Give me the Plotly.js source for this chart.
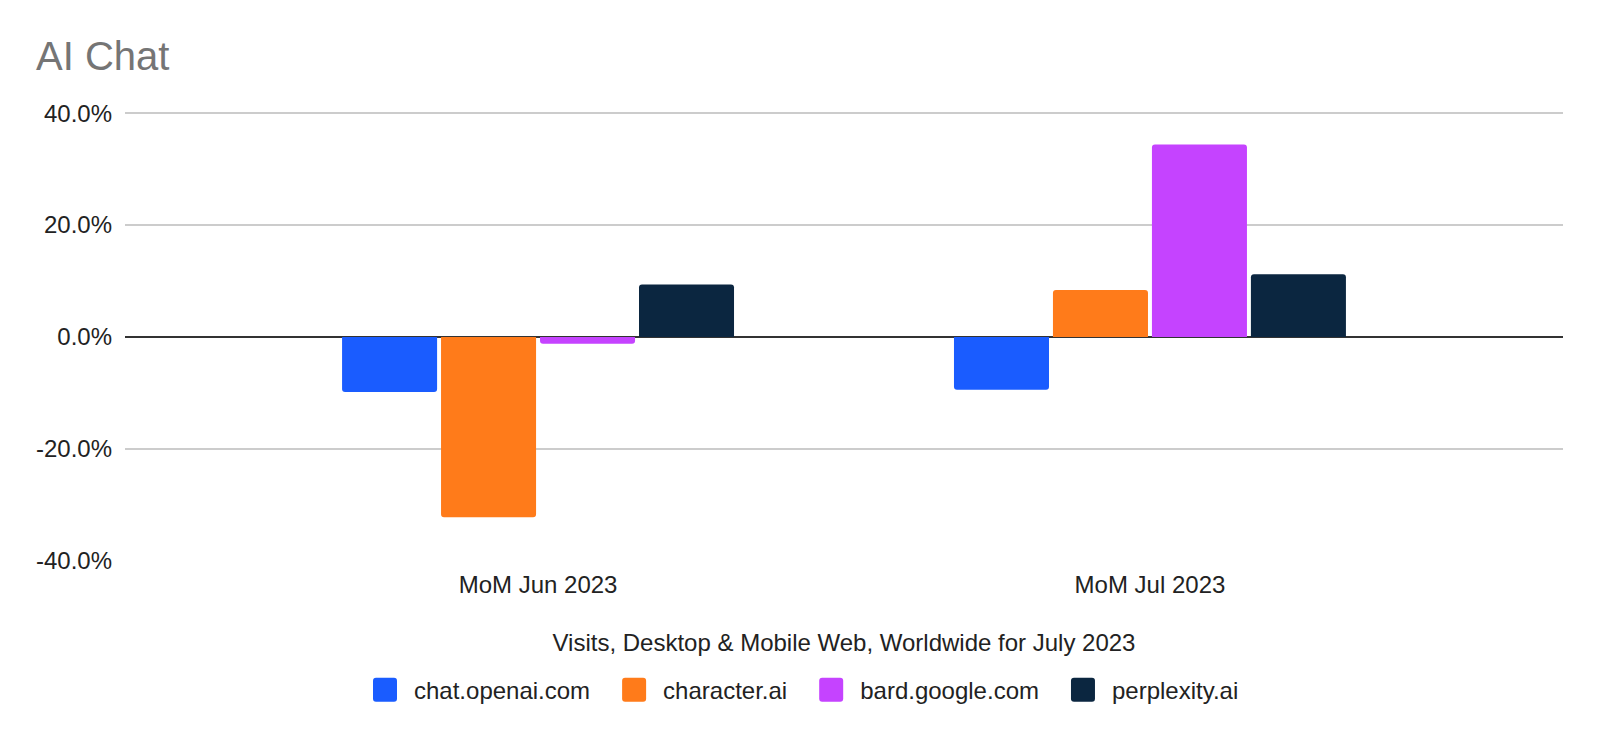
<!DOCTYPE html>
<html><head><meta charset="utf-8">
<script src="https://cdn.plot.ly/plotly-3.0.1.min.js"></script>
<style>html,body{margin:0;padding:0;background:#fff}#chart{width:1600px;height:742px}</style>
</head><body><div id="chart"></div>
<script>
const categories = ['MoM Jun 2023', 'MoM Jul 2023'];
const seriesNames = ['chat.openai.com', 'character.ai', 'bard.google.com', 'perplexity.ai'];
const chatOpenai = [-9.8, -9.4];
const characterAi = [-32.2, 8.4];
const bardGoogle = [-1.2, 34.4];
const perplexityAi = [9.4, 11.2];
const yTickVals = [-40, -20, 0, 20, 40];
const yTickText = ['-40.0%', '-20.0%', '0.0%', '20.0%', '40.0%'];
const colors = ['#1a5cff', '#ff7b1a', '#c543ff', '#0b2640'];
const seriesValues = [chatOpenai, characterAi, bardGoogle, perplexityAi];

const FONT = '"Liberation Sans", Arial, sans-serif';
const traces = seriesNames.map((name, i) => ({
  type: 'bar', name: name, x: categories, y: seriesValues[i],
  marker: {color: colors[i], cornerradius: 3, line: {width: 0}},
  hoverinfo: 'none'
}));

const layout = {
  width: 1600, height: 742,
  paper_bgcolor: '#ffffff', plot_bgcolor: '#ffffff',
  font: {family: FONT, size: 24, color: '#222222'},
  margin: {l: 125, r: 37, t: 112, b: 181, pad: 0},
  title: {text: 'AI Chat', font: {family: FONT, size: 40, color: '#757575'},
          xref: 'container', x: 0.0225, xanchor: 'left', yref: 'container', y: 0.924, yanchor: 'middle'},
  barmode: 'group', bargap: 0.353, bargroupgap: 0.04,
  xaxis: {type: 'category', range: [-0.675, 1.675], showgrid: false, zeroline: false, showline: false,
          ticks: '', tickfont: {size: 24, color: '#222222'}, ticklabelstandoff: 7, automargin: false,
          title: {text: 'Visits, Desktop &amp; Mobile Web, Worldwide for July 2023', font: {size: 24, color: '#222222'}, standoff: 37}},
  yaxis: {range: [-40, 40.2], tickvals: yTickVals, ticktext: yTickText, showgrid: true, gridcolor: '#cccccc', gridwidth: 1.3,
          zeroline: true, zerolinecolor: '#333333', zerolinewidth: 2, showline: false, ticks: '',
          tickfont: {size: 24, color: '#222222'}, ticklabelstandoff: 12, automargin: false},
  showlegend: true,
  legend: {orientation: 'h', xref: 'container', yref: 'container', x: 0.5, xanchor: 'center', y: 0.07, yanchor: 'middle',
           font: {size: 24, color: '#222222'}, itemwidth: 48, traceorder: 'normal', bgcolor: 'rgba(0,0,0,0)'}
};

Plotly.newPlot('chart', traces, layout, {staticPlot: true, displayModeBar: false}).then(gd => {
  const legend = gd.querySelector('.legend');
  if (!legend) return;
  legend.querySelectorAll('[clip-path]').forEach(el => el.removeAttribute('clip-path'));
  legend.querySelectorAll('.legendpoints path').forEach(p => {
    p.setAttribute('d', 'M12,9A3,3 0 0 1 9,12H-9A3,3 0 0 1 -12,9V-9A3,3 0 0 1 -9,-12H9A3,3 0 0 1 12,-9Z');
    p.style.strokeWidth = '0px';
  });
  const items = legend.querySelectorAll('g.traces');
  const extra = 10, shift = -extra * (items.length - 1) / 2;
  items.forEach((g, i) => {
    const t = g.getAttribute('transform') || '';
    const m = t.match(/translate\(\s*([-\d.e]+)[ ,]+([-\d.e]+)\s*\)/);
    if (m) g.setAttribute('transform', 'translate(' + (parseFloat(m[1]) + shift + i * extra) + ',' + m[2] + ')');
  });
});
</script></body></html>
